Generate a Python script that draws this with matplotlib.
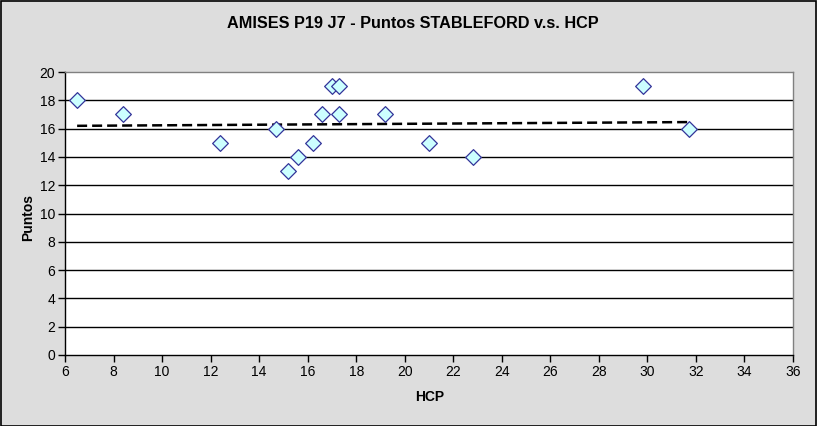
import numpy as np
import matplotlib
matplotlib.use("Agg")
import matplotlib.pyplot as plt
from matplotlib.patches import Rectangle

# Data
hcp = [6.5, 8.4, 12.4, 14.7, 15.2, 15.6, 16.2, 16.6, 17.0, 17.3, 17.3, 19.2, 21.0, 22.8, 29.8, 31.7]
puntos = [18, 17, 15, 16, 13, 14, 15, 17, 19, 19, 17, 17, 15, 14, 19, 16]
x_ticks = list(range(6, 37, 2))
y_ticks = list(range(0, 21, 2))
title = "AMISES P19 J7 - Puntos STABLEFORD v.s. HCP"
xlabel = "HCP"
ylabel = "Puntos"

plt.rcParams['font.family'] = ['Liberation Sans', 'DejaVu Sans']

W, H = 817, 426
fig = plt.figure(figsize=(W / 100, H / 100), dpi=100)
fig.patch.set_facecolor('#DDDDDD')
fig.patches.append(Rectangle((0.5 / W, 0.5 / H), 1 - 1.5 / W, 1 - 1.5 / H, transform=fig.transFigure,
                             fill=False, edgecolor='black', linewidth=1.2))

left, right, top, bottom = 65, 793, 72, 355
ax = fig.add_axes([left / W, 1 - bottom / H, (right - left) / W, (bottom - top) / H])
ax.set_facecolor('white')
ax.set_xlim(6, 36)
ax.set_ylim(0, 20)
ax.set_xticks(x_ticks)
ax.set_yticks(y_ticks)
ax.tick_params(axis='both', direction='out', length=5, width=1, color='black', labelsize=10, pad=2)
for y in y_ticks[1:-1]:
    ax.axhline(y, color='black', linewidth=1, zorder=1)
for s in ['left', 'bottom']:
    ax.spines[s].set_color('black')
    ax.spines[s].set_linewidth(1)
for s in ['top', 'right']:
    ax.spines[s].set_color('#808080')
    ax.spines[s].set_linewidth(1)

ax.scatter(hcp, puntos, marker='D', s=64, facecolor='#CCFFFF', edgecolor='#333399', linewidth=0.9, zorder=3)

coef = np.polyfit(hcp, puntos, 1)
xs = np.array([min(hcp), max(hcp)])
ax.plot(xs, np.polyval(coef, xs), linestyle=(0, (4, 2)), color='black', linewidth=1.8, zorder=2)

fig.text(413 / W, 1 - 24 / H, title, ha='center', va='center', fontsize=11.7, fontweight='bold')
fig.text(430 / W, 1 - 397 / H, xlabel, ha='center', va='center', fontsize=10, fontweight='bold')
fig.text(28 / W, 1 - 218 / H, ylabel, ha='center', va='center', fontsize=10, fontweight='bold', rotation=90)

fig.savefig("out.png", dpi=100, facecolor=fig.get_facecolor())
